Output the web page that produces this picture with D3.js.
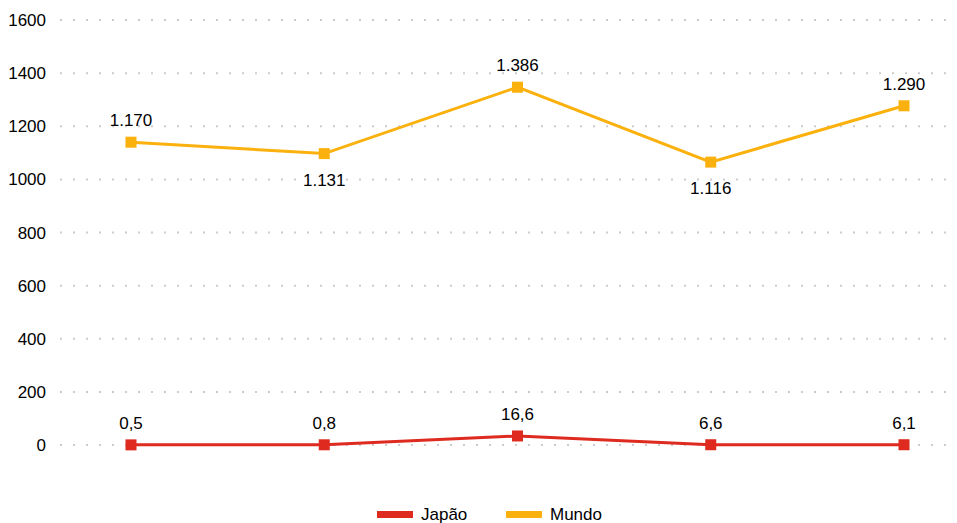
<!DOCTYPE html>
<html>
<head>
<meta charset="utf-8">
<script src="https://cdn.jsdelivr.net/npm/d3@7"></script>
<style>
  body { margin: 0; background: #fff; }
  text { font-family: "Liberation Sans", Arial, sans-serif; fill: #000; }
</style>
</head>
<body>
<div id="chart"></div>
<script>

// ======================= //
// DATA
// ======================= //

var categories = ["1", "2", "3", "4", "5"]
var seriesNames = ["Japão", "Mundo"]
var japaoValues = [0.5, 0.8, 34, 1, 1]
var japaoLabels = ["0,5", "0,8", "16,6", "6,6", "6,1"]
var mundoValues = [1140, 1097, 1347, 1065, 1277]
var mundoLabels = ["1.170", "1.131", "1.386", "1.116", "1.290"]
var yTicks = [0, 200, 400, 600, 800, 1000, 1200, 1400, 1600]

// ======================= //
// SVG AREA
// ======================= //

var margin = {top: 20, right: 0, bottom: 78, left: 60},
    width = 957 - margin.left - margin.right,
    height = 523 - margin.top - margin.bottom;

var root = d3.select("#chart")
  .append("svg")
    .attr("width", 957)
    .attr("height", 523)

var svg = root.append("g")
    .attr("transform", "translate(" + margin.left + "," + margin.top + ")");

// ======================= //
// SCALES AND AXIS
// ======================= //

var x = d3.scalePoint()
  .domain(categories)
  .range([71, 844])

var y = d3.scaleLinear()
  .domain([0, 1600])
  .range([height, 0])

// dotted grid
svg.selectAll("gridline")
  .data(yTicks)
  .enter()
  .append("line")
    .attr("x1", 0)
    .attr("x2", width)
    .attr("y1", function(d){ return y(d) })
    .attr("y2", function(d){ return y(d) })
    .attr("stroke", "#cccccc")
    .attr("stroke-width", 2)
    .style("stroke-dasharray", "2, 11")

// y tick labels
svg.selectAll("ytick")
  .data(yTicks)
  .enter()
  .append("text")
    .attr("x", -14)
    .attr("y", function(d){ return y(d) })
    .attr("dy", "0.36em")
    .attr("text-anchor", "end")
    .style("font-size", "17px")
    .text(function(d){ return d })

// ======================= //
// LINES AND POINTS
// ======================= //

var series = [
  {name: "Japão", values: japaoValues, labels: japaoLabels, color: "#de2a1f", pos: ["up", "up", "up", "up", "up"]},
  {name: "Mundo", values: mundoValues, labels: mundoLabels, color: "#fbb10d", pos: ["up", "down", "up", "down", "up"]}
]

var line = d3.line()
  .x(function(d, i){ return x(categories[i]) })
  .y(function(d){ return y(d) })

series.forEach(function(s){
  svg.append("path")
    .datum(s.values)
    .attr("d", line)
    .attr("fill", "none")
    .attr("stroke", s.color)
    .attr("stroke-width", 3)

  svg.selectAll("pt")
    .data(s.values)
    .enter()
    .append("rect")
      .attr("x", function(d, i){ return x(categories[i]) - 5.5 })
      .attr("y", function(d){ return y(d) - 5.5 })
      .attr("width", 11)
      .attr("height", 11)
      .attr("fill", s.color)

  svg.selectAll("lbl")
    .data(s.values)
    .enter()
    .append("text")
      .attr("x", function(d, i){ return x(categories[i]) })
      .attr("y", function(d, i){ return s.pos[i] == "up" ? y(d) - 22 : y(d) + 26 })
      .attr("dy", "0.36em")
      .attr("text-anchor", "middle")
      .style("font-size", "17px")
      .text(function(d, i){ return s.labels[i] })
})

// ======================= //
// LEGEND
// ======================= //

var legendX = [377, 506]
var legend = root.selectAll("legend")
  .data(series)
  .enter()
  .append("g")
    .attr("transform", function(d, i){ return "translate(" + legendX[i] + ",514)" })

legend.append("rect")
  .attr("x", 0)
  .attr("y", -3)
  .attr("width", 36)
  .attr("height", 7)
  .attr("fill", function(d){ return d.color })

legend.append("text")
  .attr("x", 44)
  .attr("y", 0)
  .attr("dy", "0.34em")
  .style("font-size", "17px")
  .text(function(d){ return d.name })

</script>
</body>
</html>
